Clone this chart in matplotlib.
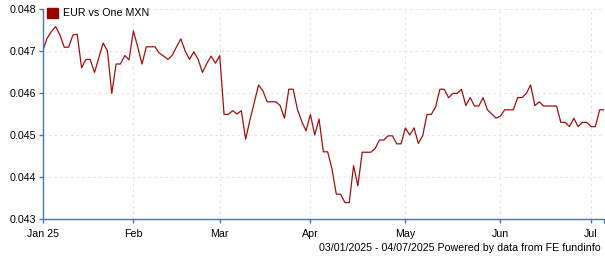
import numpy as np
import pandas as pd
import matplotlib
matplotlib.use("Agg")
import matplotlib.pyplot as plt
from matplotlib.patches import Patch

plt.rcParams['font.family'] = ['Liberation Sans', 'DejaVu Sans']

# business days 03/01/2025 - 04/07/2025
dates = pd.bdate_range("2025-01-03", "2025-07-04")

# EUR value of one MXN (one value per business day)
rate = [
    0.0470, 0.0473, 0.04746, 0.04758, 0.04738, 0.04709, 0.04709, 0.04738, 0.0474, 0.0466,
    0.0468, 0.0468, 0.04649, 0.04684, 0.04719, 0.0470, 0.04599, 0.04669, 0.04669, 0.04689,
    0.04679, 0.04748, 0.0471, 0.04669, 0.0471, 0.0471, 0.0471, 0.04695, 0.04688, 0.0468,
    0.0469, 0.0471, 0.04729, 0.0470, 0.0468, 0.04698, 0.0468, 0.04649, 0.0467, 0.04688,
    0.04671, 0.04689, 0.04549, 0.04549, 0.04558, 0.0455, 0.04558, 0.0449, 0.04536, 0.04578,
    0.04619, 0.04605, 0.04579, 0.04579, 0.04579, 0.0457, 0.0454, 0.04609, 0.04609, 0.04561,
    0.04532, 0.0451, 0.04549, 0.0450, 0.04538, 0.0446, 0.0446, 0.04419, 0.04359, 0.04359,
    0.04339, 0.04339, 0.04427, 0.04379, 0.04459, 0.04459, 0.04459, 0.04468, 0.04488, 0.04488,
    0.04498, 0.04498, 0.04479, 0.04479, 0.04517, 0.0450, 0.04517, 0.0448, 0.04498, 0.04549,
    0.04549, 0.04567, 0.04609, 0.04609, 0.04589, 0.04599, 0.04599, 0.04609, 0.0457, 0.04589,
    0.04569, 0.04569, 0.04589, 0.0456, 0.0455, 0.0454, 0.04545, 0.0456, 0.0456, 0.0456,
    0.04589, 0.04589, 0.04599, 0.04619, 0.0457, 0.04579, 0.04569, 0.04569, 0.04569, 0.04569,
    0.0453, 0.0453, 0.0452, 0.0454, 0.0452, 0.0453, 0.0453, 0.0452, 0.0452, 0.0456,
    0.0456,
]

y_ticks = [0.043, 0.044, 0.045, 0.046, 0.047, 0.048]
month_names = ["Jan 25", "Feb", "Mar", "Apr", "May", "Jun", "Jul"]

line_col = "#a01010"
axis_col = "#4a78aa"
grid_col = "#e2e2e2"
fs = 7.7

fig = plt.figure(figsize=(6.05, 2.6), dpi=100)
ax = fig.add_axes([42.7 / 605, 41 / 260, (604 - 42.7) / 605, 210 / 260])

idx = np.arange(len(rate))
ax.plot(idx, rate, color=line_col, lw=0.9)

# month ticks at the first business day of each month
s = pd.Series(idx, index=dates)
first = s.groupby([dates.year, dates.month]).first().values
xt = list(first) + [len(rate) - 1]
ax.set_xticks(xt)
ax.set_xticklabels(month_names + [""])
ax.set_xlim(0, len(rate) - 1)

ax.set_ylim(0.043, 0.048)
ax.set_yticks(y_ticks)
ax.set_yticklabels([f"{v:.3f}" for v in y_ticks])

for v in y_ticks[1:]:
    ax.axhline(v, color=grid_col, lw=0.8, ls=(0, (2, 3)), zorder=0)
for t in first[1:]:
    ax.axvline(t, color=grid_col, lw=0.8, ls=(0, (2, 3)), zorder=0)

for side in ["top", "right"]:
    ax.spines[side].set_visible(False)
for side in ["left", "bottom"]:
    ax.spines[side].set_color(axis_col)
    ax.spines[side].set_linewidth(1.0)

ax.tick_params(axis="both", colors=axis_col, labelcolor="black", labelsize=fs,
               length=3, width=1.0)
ax.tick_params(axis="x", pad=4.5)
ax.tick_params(axis="y", pad=1.5)

leg = ax.legend(handles=[Patch(color="#990000", label="EUR vs One MXN")],
                loc="upper left", bbox_to_anchor=(0.0, 1.025), frameon=False,
                fontsize=fs, handlelength=1.0, handleheight=1.0, handletextpad=0.5,
                borderaxespad=0.2, borderpad=0.2)

fig.text(601 / 605, 1 - 248 / 260, "03/01/2025 - 04/07/2025 Powered by data from FE fundinfo",
         ha="right", va="center", fontsize=fs)

fig.savefig("out.png", dpi=100)
